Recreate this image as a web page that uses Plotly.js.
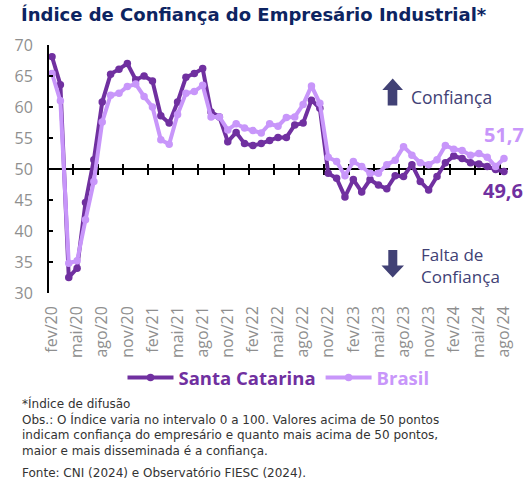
<!DOCTYPE html>
<html><head><meta charset="utf-8">
<script src="https://cdn.plot.ly/plotly-3.0.1.min.js"></script>
<style>html,body{margin:0;padding:0;background:#fff}</style>
</head><body><div id="chart" style="width:532px;height:485px"></div>
<script>
const months = ["fev/20","mar/20","abr/20","mai/20","jun/20","jul/20","ago/20","set/20","out/20","nov/20","dez/20",
"jan/21","fev/21","mar/21","abr/21","mai/21","jun/21","jul/21","ago/21","set/21","out/21","nov/21","dez/21",
"jan/22","fev/22","mar/22","abr/22","mai/22","jun/22","jul/22","ago/22","set/22","out/22","nov/22","dez/22",
"jan/23","fev/23","mar/23","abr/23","mai/23","jun/23","jul/23","ago/23","set/23","out/23","nov/23","dez/23",
"jan/24","fev/24","mar/24","abr/24","mai/24","jun/24","jul/24","ago/24"];
const santaCatarina = [68.1,63.6,32.5,34.0,44.6,51.5,60.8,65.3,66.1,67.0,64.4,
65.0,64.2,58.6,57.4,60.8,64.8,65.4,66.2,59.2,58.4,54.4,55.9,
54.1,53.8,54.1,54.6,55.1,55.1,57.1,57.4,61.1,59.8,49.3,48.5,
45.5,48.3,46.3,48.3,47.4,46.8,48.9,48.8,50.7,48.0,46.6,48.8,
51.0,52.1,51.7,51.0,50.8,50.4,49.9,49.6];
const brasil = [65.4,61.0,34.8,35.2,41.8,48.0,57.6,61.9,62.2,63.3,63.7,
61.7,60.0,54.7,54.0,58.8,62.2,62.5,63.5,58.4,58.4,56.3,57.3,
56.6,56.2,55.8,57.3,56.9,58.3,58.4,60.4,63.4,60.6,51.9,51.2,
48.9,51.2,50.4,49.3,49.3,50.7,51.4,53.6,52.2,51.0,50.7,51.5,
53.8,53.2,53.0,52.2,52.5,51.9,50.4,51.7];
const seriesNames = ["Santa Catarina","Brasil"];
const titleText = "Índice de Confiança do Empresário Industrial*";
const noteLines = ["*Índice de difusão",
 "Obs.: O Índice varia no intervalo 0 a 100. Valores acima de 50 pontos",
 "indicam confiança do empresário e quanto mais acima de 50 pontos,",
 "maior e mais disseminada é a confiança."];
const sourceText = "Fonte: CNI (2024) e Observatório FIESC (2024).";

const DARK = "#7030a0", LIGHT = "#c896fa", NAVY = "#0d2461", SLATE = "#414175", GRAY = "#8f8f8f";
const FONT = "Open Sans, sans-serif";
const NOTEFONT = "DejaVu Sans, sans-serif";
const xIdx = months.map((m,i)=>i);
const tickIdx = xIdx.filter(i=>i%3===0);
const tickTxt = tickIdx.map(i=>months[i]);
const crossTicks = tickIdx.map(i=>i+2.5).filter(v=>v<months.length);

const W=532,H=485, L=49, R=24, T=45, B=192;
const pw=W-L-R, ph=H-T-B;
const px = x => (x-L)/pw;
const py = y => (H-B-y)/ph;

const fmt = v => v.toFixed(1).replace('.',',');
const last = months.length-1;

const traces = [
 {x:xIdx, y:santaCatarina, name:'<b><span style="color:'+DARK+'">'+seriesNames[0]+'</span></b>', type:'scatter', mode:'lines+markers',
  line:{color:DARK,width:4}, marker:{color:DARK,size:7.5}},
 {x:xIdx, y:brasil, name:'<b><span style="color:'+LIGHT+'">'+seriesNames[1]+'</span></b>', type:'scatter', mode:'lines+markers',
  line:{color:LIGHT,width:4}, marker:{color:LIGHT,size:7.5}}
];

const axBase = {range:[-0.36,54.48], showgrid:false, zeroline:false};
const layout = {
 width:W, height:H, margin:{l:L,r:R,t:T,b:B}, paper_bgcolor:'#fff', plot_bgcolor:'#fff',
 font:{family:FONT, color:'#333'},
 showlegend:true, hovermode:false,
 title:{text:'<b>'+titleText+'</b>', xref:'container', yref:'container', x:21/W, xanchor:'left', y:1-15/H, yanchor:'middle',
   font:{family:"DejaVu Sans, sans-serif", size:18, color:NAVY}},
 xaxis:Object.assign({}, axBase, {tickmode:'array', tickvals:tickIdx, ticktext:tickTxt, tickangle:-90,
   tickfont:{family:FONT,size:16,color:GRAY}, showline:false, ticks:'', ticklabelstandoff:9}),
 xaxis2:Object.assign({}, axBase, {overlaying:'x', anchor:'free', position:0.5, showline:true, linecolor:'#000', linewidth:2,
   tickmode:'array', tickvals:crossTicks, ticks:'outside', ticklen:5, tickwidth:2, tickcolor:'#000', showticklabels:false, layer:'below traces'}),
 xaxis3:Object.assign({}, axBase, {overlaying:'x', anchor:'free', position:0.5, showline:false,
   tickmode:'array', tickvals:crossTicks, ticks:'inside', ticklen:5, tickwidth:2, tickcolor:'#000', showticklabels:false, layer:'below traces'}),
 yaxis:{range:[30,70], dtick:5, showgrid:false, zeroline:false, showline:true, linecolor:'#000', linewidth:2,
   ticks:'inside', ticklen:4, tickwidth:2, tickcolor:'#000', tickfont:{family:FONT,size:16,color:GRAY}, ticklabelstandoff:11},
 legend:{orientation:'h', x:0.5, xanchor:'center', y:py(378), yanchor:'middle', font:{family:FONT,size:18.5}, itemwidth:46, tracegroupgap:0},
 annotations:[
  {xref:'x', yref:'y', x:last, y:brasil[last], text:'<b>'+fmt(brasil[last])+'</b>', showarrow:false, xshift:0, yshift:24,
   font:{family:FONT,size:20,color:LIGHT}},
  {xref:'x', yref:'y', x:last, y:santaCatarina[last], text:'<b>'+fmt(santaCatarina[last])+'</b>', showarrow:false, xshift:-1, yshift:-19,
   font:{family:FONT,size:20,color:DARK}},
  {xref:'paper', yref:'paper', x:px(409), y:py(97), xanchor:'left', yanchor:'middle', text:'Confiança', showarrow:false,
   font:{family:FONT,size:17.5,color:SLATE}},
  {xref:'paper', yref:'paper', x:px(419), y:py(265), xanchor:'left', yanchor:'middle', text:'Falta de<br>Confiança', showarrow:false, align:'left',
   font:{family:FONT,size:17,color:SLATE}},
  {xref:'paper', yref:'paper', x:px(20), y:py(394), xanchor:'left', yanchor:'top', text:noteLines.join('<br>'), showarrow:false, align:'left',
   font:{family:NOTEFONT,size:12,color:'#333'}},
  {xref:'paper', yref:'paper', x:px(20), y:py(473), xanchor:'left', yanchor:'middle', text:sourceText, showarrow:false, align:'left',
   font:{family:NOTEFONT,size:12,color:'#333'}}
 ],
 shapes:[
  {type:'path', xref:'paper', yref:'paper', fillcolor:SLATE, line:{width:0},
   path:'M '+px(392.7)+' '+py(78.5)+' L '+px(403)+' '+py(90)+' L '+px(397.3)+' '+py(90)+' L '+px(397.3)+' '+py(105.5)+' L '+px(387.7)+' '+py(105.5)+' L '+px(387.7)+' '+py(90)+' L '+px(382.3)+' '+py(90)+' Z'},
  {type:'path', xref:'paper', yref:'paper', fillcolor:SLATE, line:{width:0},
   path:'M '+px(392.7)+' '+py(277.5)+' L '+px(404)+' '+py(265.5)+' L '+px(397.3)+' '+py(265.5)+' L '+px(397.3)+' '+py(250)+' L '+px(388.3)+' '+py(250)+' L '+px(388.3)+' '+py(265.5)+' L '+px(381.5)+' '+py(265.5)+' Z'}
 ]
};
traces.push({x:[0], y:[50], xaxis:'x2', yaxis:'y', mode:'markers', marker:{opacity:0}, showlegend:false, hoverinfo:'skip'});
traces.push({x:[0], y:[50], xaxis:'x3', yaxis:'y', mode:'markers', marker:{opacity:0}, showlegend:false, hoverinfo:'skip'});
const ordered = [traces[2], traces[3], traces[0], traces[1]];
Plotly.newPlot('chart', ordered, layout, {staticPlot:true, displayModeBar:false});
</script></body></html>
